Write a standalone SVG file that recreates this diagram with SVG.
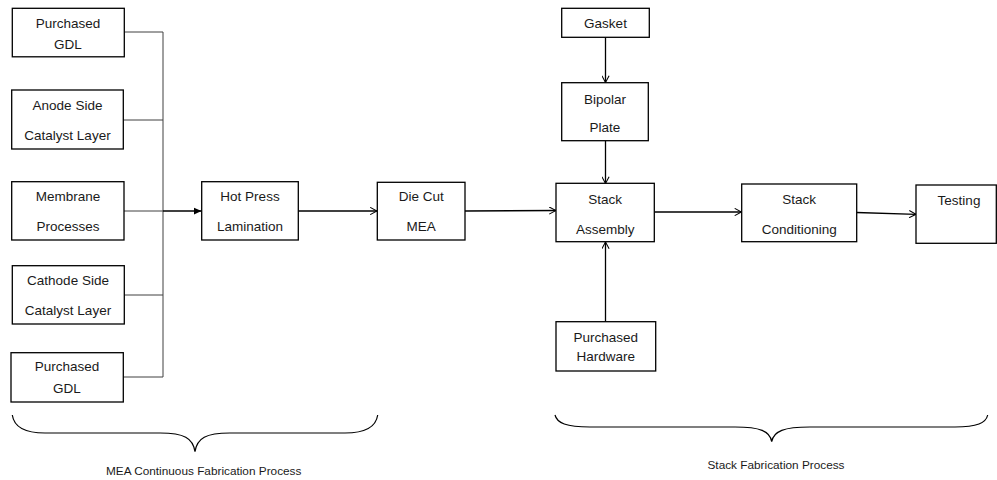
<svg xmlns="http://www.w3.org/2000/svg" width="997" height="480" viewBox="0 0 997 480">
  <style>
    .box { fill: #ffffff; stroke: #000000; stroke-width: 1.3; }
    .lbl { font-family: "Liberation Sans", Arial, sans-serif; font-size: 13.5px; fill: #1a1a1a; text-anchor: middle; }
    .cap { font-family: "Liberation Sans", Arial, sans-serif; font-size: 11.8px; fill: #1a1a1a; text-anchor: middle; }
    .feed { fill: none; stroke: #404040; stroke-width: 1; }
    .flow { fill: none; stroke: #000000; stroke-width: 1.3; }
    .brace { fill: none; stroke: #000000; stroke-width: 1.2; }
  </style>
  <defs>
    <marker id="open" viewBox="0 0 10 10" refX="9.5" refY="5" markerWidth="8" markerHeight="8" markerUnits="userSpaceOnUse" orient="auto">
      <path d="M1,0.5 L9.5,5 L1,9.5" fill="none" stroke="#000" stroke-width="1.3"/>
    </marker>
    <marker id="solid" viewBox="0 0 10 10" refX="10" refY="5" markerWidth="8" markerHeight="8" markerUnits="userSpaceOnUse" orient="auto">
      <path d="M0,0.5 L10,5 L0,9.5 Z" fill="#000"/>
    </marker>
  </defs>

  <!-- connectors -->
  <g id="connectors">
    <!-- MEA inputs merging into one feed -->
    <path class="feed" d="M124,32 H163 V377 H123"/>
    <path class="feed" d="M123,120 H163"/>
    <path class="feed" d="M124,295 H163"/>
    <path class="feed" d="M124,211 H163"/>
    <path class="flow" d="M163,211 H201.5" stroke-width="1.8" marker-end="url(#solid)"/>
    <path class="flow" d="M298,211 H377" marker-end="url(#open)"/>
    <path class="flow" d="M465,211 L556,210.5" marker-end="url(#open)"/>
    <path class="flow" d="M605.5,37 V82.5" marker-end="url(#open)"/>
    <path class="flow" d="M605.5,141 V183.5" marker-end="url(#open)"/>
    <path class="flow" d="M605.5,321.5 V242" marker-end="url(#open)"/>
    <path class="flow" d="M654.5,212 H741.5" marker-end="url(#open)"/>
    <path class="flow" d="M856.5,212.5 L916,214.3" marker-end="url(#open)"/>
  </g>

  <!-- MEA fabrication nodes -->
  <g id="gdl-top">
    <rect class="box" x="12.3" y="8.3" width="112" height="48.5"/>
    <text class="lbl" x="68" y="28">Purchased</text>
    <text class="lbl" x="68" y="49">GDL</text>
  </g>
  <g id="anode">
    <rect class="box" x="11.7" y="90" width="111.6" height="59"/>
    <text class="lbl" x="67.5" y="109.7">Anode Side</text>
    <text class="lbl" x="67.5" y="139.7">Catalyst Layer</text>
  </g>
  <g id="membrane">
    <rect class="box" x="11.7" y="181.7" width="112.3" height="58.3"/>
    <text class="lbl" x="68" y="200.7">Membrane</text>
    <text class="lbl" x="68" y="231.4">Processes</text>
  </g>
  <g id="cathode">
    <rect class="box" x="12.3" y="265.7" width="112" height="58.3"/>
    <text class="lbl" x="68" y="284.7">Cathode Side</text>
    <text class="lbl" x="68" y="314.7">Catalyst Layer</text>
  </g>
  <g id="gdl-bottom">
    <rect class="box" x="11" y="352.7" width="112.3" height="49.3"/>
    <text class="lbl" x="67" y="371.4">Purchased</text>
    <text class="lbl" x="67" y="393">GDL</text>
  </g>
  <g id="hot-press">
    <rect class="box" x="201.7" y="181.7" width="96.6" height="58.3"/>
    <text class="lbl" x="250" y="201.4">Hot Press</text>
    <text class="lbl" x="250" y="230.7">Lamination</text>
  </g>
  <g id="die-cut">
    <rect class="box" x="377.3" y="182.3" width="87.7" height="57.7"/>
    <text class="lbl" x="421.2" y="200.7">Die Cut</text>
    <text class="lbl" x="421.2" y="230.7">MEA</text>
  </g>

  <!-- Stack fabrication nodes -->
  <g id="gasket">
    <rect class="box" x="561.7" y="8.3" width="87.6" height="29"/>
    <text class="lbl" x="605.5" y="28">Gasket</text>
  </g>
  <g id="bipolar">
    <rect class="box" x="561.7" y="82.7" width="86.6" height="58"/>
    <text class="lbl" x="605" y="103.7">Bipolar</text>
    <text class="lbl" x="605" y="132.4">Plate</text>
  </g>
  <g id="stack-assembly">
    <rect class="box" x="556" y="183.3" width="98.3" height="58.4"/>
    <text class="lbl" x="605.2" y="204">Stack</text>
    <text class="lbl" x="605.2" y="234">Assembly</text>
  </g>
  <g id="hardware">
    <rect class="box" x="556" y="321.7" width="99.7" height="49.3"/>
    <text class="lbl" x="605.8" y="342">Purchased</text>
    <text class="lbl" x="605.8" y="361.4">Hardware</text>
  </g>
  <g id="conditioning">
    <rect class="box" x="741.7" y="184" width="115" height="57.7"/>
    <text class="lbl" x="799.2" y="204">Stack</text>
    <text class="lbl" x="799.2" y="234">Conditioning</text>
  </g>
  <g id="testing">
    <rect class="box" x="916" y="185" width="80.3" height="58.3"/>
    <text class="lbl" x="959" y="204.7">Testing</text>
  </g>

  <!-- process braces -->
  <g id="mea-brace">
    <path class="brace" d="M12.3,415 C14,427 24,433 45,433 L160,433 C184,433 193,438 195,451.7 C197,438 206,433 230,433 L345,433 C366,433 376,427 377.7,415"/>
    <text class="cap" x="203.7" y="475">MEA Continuous Fabrication Process</text>
  </g>
  <g id="stack-brace">
    <path class="brace" d="M555,415 C557,423 566,427 590,427 L735,427 C760,427 770,431 771.7,441.7 C773.5,431 784,427 810,427 L955,427 C977,427 986,423 987.7,415"/>
    <text class="cap" x="776" y="469">Stack Fabrication Process</text>
  </g>
</svg>
